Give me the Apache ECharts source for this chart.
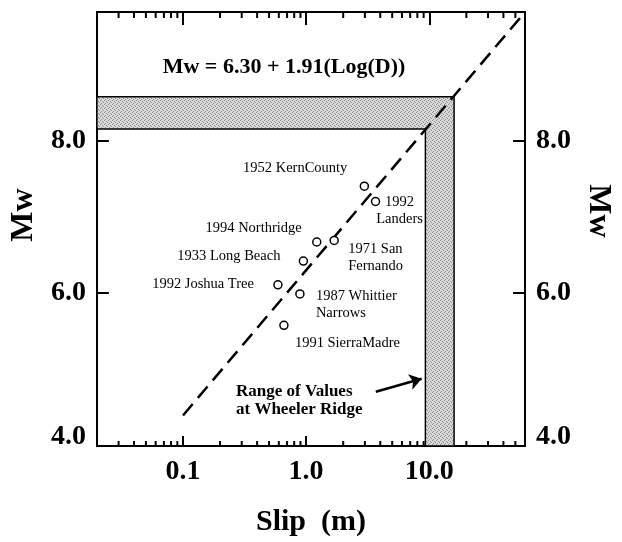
<!DOCTYPE html>
<html>
<head>
<meta charset="utf-8">
<script src="https://cdn.jsdelivr.net/npm/echarts@6/dist/echarts.min.js"></script>
<style>
  html, body { margin: 0; padding: 0; background: #fff; }
  #chart { width: 622px; height: 542px; }
</style>
</head>
<body>
<div id="chart"></div>
<script>
// axis ranges
const xMin = 0.02, xMax = 60;
const yMin = 4, yMax = 9.68;

// earthquakes (slip in m, moment magnitude)
const eventNames = ['1952 KernCounty', '1992\nLanders', '1994 Northridge', '1971 San\nFernando',
    '1933 Long Beach', '1992 Joshua Tree', '1987 Whittier\nNarrows', '1991 SierraMadre'];
const eventSlip = [2.97, 3.66, 1.22, 1.69, 0.95, 0.59, 0.89, 0.66];
const eventMw = [7.40, 7.20, 6.67, 6.69, 6.42, 6.11, 5.99, 5.58];

// regression line  Mw = 6.30 + 1.91 log(D)
const fitSlip = [0.1, 60];
const fitMw = [4.40, 9.68];

// range of values at Wheeler Ridge
const bandSlip = [9.3, 15.9];
const bandMw = [8.15, 8.57];

// arrow pointing at the band
const arrowSlip = [3.68, 8.67];
const arrowMw = [4.71, 4.88];

// tick labels
const xTickText = { '0.1': '0.1', '1': '1.0', '10': '10.0' };
const minorTicks = [0.03, 0.04, 0.05, 0.06, 0.07, 0.08, 0.09,
    0.2, 0.3, 0.4, 0.5, 0.6, 0.7, 0.8, 0.9,
    2, 3, 4, 5, 6, 7, 8, 9,
    20, 30, 40, 50];

// where each event label sits relative to its circle
const labelSpots = [
    { align: 'right', offset: [-17, -18] },
    { align: 'center', offset: [24, 9] },
    { align: 'right', offset: [-15, -14] },
    { align: 'left', offset: [14, 17] },
    { align: 'right', offset: [-23, -5] },
    { align: 'right', offset: [-24, -1] },
    { align: 'left', offset: [16, 11] },
    { align: 'left', offset: [11, 18] },
];

const serif = 'Liberation Serif';
const chart = echarts.init(document.getElementById('chart'));

// speckled grey fill, like the halftone of the original
function halftone() {
    const c = document.createElement('canvas');
    c.width = 4; c.height = 4;
    const ctx = c.getContext('2d');
    ctx.fillStyle = '#dadada';
    ctx.fillRect(0, 0, 4, 4);
    ctx.fillStyle = '#8e8e8e';
    [[0, 0], [2, 1], [1, 3], [3, 2]].forEach((p) => ctx.fillRect(p[0], p[1], 1, 1));
    return { image: c, repeat: 'repeat' };
}

function tickLabel(size) {
    return { color: '#000', fontFamily: serif, fontWeight: 'bold', fontSize: size };
}

function yLabel() {
    return Object.assign(tickLabel(28), {
        margin: 11, showMaxLabel: false,
        formatter: (v) => v === yMin ? '{low|' + v.toFixed(1) + '}' : v.toFixed(1),
        rich: { low: Object.assign(tickLabel(28), { padding: [0, 0, 18, 0] }) },
    });
}

const option = {
    animation: false,
    backgroundColor: '#fff',
    grid: { left: 88, right: 81, top: 12, bottom: 92 },
    xAxis: [
        {
            type: 'log', min: xMin, max: xMax, position: 'bottom',
            axisLine: { lineStyle: { color: '#000', width: 2 } },
            axisTick: { inside: true, length: 10, lineStyle: { color: '#000', width: 2 } },
            splitLine: { show: false },
            axisLabel: Object.assign(tickLabel(28), {
                margin: 12, showMinLabel: false, showMaxLabel: false,
                formatter: (v) => xTickText[String(v)] || '',
            }),
            name: 'Slip  (m)', nameLocation: 'middle', nameGap: 61,
            nameTextStyle: tickLabel(30),
        },
        {
            type: 'log', min: xMin, max: xMax, position: 'top',
            axisLine: { lineStyle: { color: '#000', width: 2 } },
            axisTick: { inside: true, length: 13, lineStyle: { color: '#000', width: 2 } },
            splitLine: { show: false },
            axisLabel: { show: false },
        },
    ],
    yAxis: [
        {
            type: 'value', min: yMin, max: yMax, interval: 2, position: 'left',
            axisLine: { show: true, lineStyle: { color: '#000', width: 2 } },
            axisTick: { show: true, inside: true, length: 12, lineStyle: { color: '#000', width: 2 } },
            splitLine: { show: false },
            axisLabel: yLabel(),
            name: 'Mw', nameLocation: 'middle', nameGap: 52, nameRotate: 90,
            nameTextStyle: Object.assign(tickLabel(32), { padding: [0, 0, 0, 28] }),
        },
        {
            type: 'value', min: yMin, max: yMax, interval: 2, position: 'right',
            axisLine: { show: true, lineStyle: { color: '#000', width: 2 } },
            axisTick: { show: true, inside: true, length: 12, lineStyle: { color: '#000', width: 2 } },
            splitLine: { show: false },
            axisLabel: yLabel(),
            name: 'Mw', nameLocation: 'middle', nameGap: 51, nameRotate: -90,
            nameTextStyle: Object.assign(tickLabel(32), { padding: [0, 36, 0, 0] }),
        },
    ],
    graphic: [
        {
            type: 'text', x: 284, y: 67, z: 10,
            style: {
                text: 'Mw = 6.30 + 1.91(Log(D))', fill: '#000',
                fontFamily: serif, fontWeight: 'bold', fontSize: 22,
                align: 'center', verticalAlign: 'middle',
            },
        },
        {
            type: 'text', x: 236, y: 401, z: 10,
            style: {
                text: 'Range of Values\nat Wheeler Ridge', fill: '#000',
                fontFamily: serif, fontWeight: 'bold', fontSize: 17, lineHeight: 18,
                align: 'left', verticalAlign: 'middle',
            },
        },
    ],
    series: [
        {
            // shaded L-shaped band
            type: 'custom', z: 1,
            data: [[bandSlip[0], bandMw[0]]],
            renderItem: (params, api) => {
                const pts = [
                    [xMin, bandMw[0]], [bandSlip[0], bandMw[0]], [bandSlip[0], yMin],
                    [bandSlip[1], yMin], [bandSlip[1], bandMw[1]], [xMin, bandMw[1]],
                ].map((p) => api.coord(p));
                return {
                    type: 'polygon',
                    shape: { points: pts },
                    style: { fill: halftone(), stroke: '#000', lineWidth: 1.5 },
                };
            },
        },
        {
            // minor ticks on the log axis (bottom and top)
            type: 'custom', z: 5,
            data: minorTicks.map((v) => [v, yMin]),
            renderItem: (params, api) => {
                const v = api.value(0);
                const b = api.coord([v, yMin]);
                const t = api.coord([v, yMax]);
                return {
                    type: 'group',
                    children: [
                        { type: 'line', shape: { x1: b[0], y1: b[1], x2: b[0], y2: b[1] - 5 },
                          style: { stroke: '#000', lineWidth: 2 } },
                        { type: 'line', shape: { x1: t[0], y1: t[1], x2: t[0], y2: t[1] + 6 },
                          style: { stroke: '#000', lineWidth: 2 } },
                    ],
                };
            },
        },
        {
            type: 'line', z: 3,
            data: fitSlip.map((s, i) => [s, fitMw[i]]),
            symbol: 'none',
            lineStyle: { color: '#000', width: 2.5, type: [15, 8] },
            markLine: {
                silent: true, symbol: ['none', 'arrow'], symbolSize: 12,
                label: { show: false },
                lineStyle: { color: '#000', width: 2.5, type: 'solid', curveness: -0.1 },
                data: [[{ coord: [arrowSlip[0], arrowMw[0]] }, { coord: [arrowSlip[1], arrowMw[1]] }]],
            },
        },
        {
            type: 'scatter', z: 4,
            symbol: 'circle', symbolSize: 8,
            itemStyle: { color: '#fff', borderColor: '#000', borderWidth: 1.5, opacity: 1 },
            data: eventNames.map((n, i) => ({
                name: n,
                value: [eventSlip[i], eventMw[i]],
                label: {
                    show: true, position: 'inside', formatter: n,
                    align: labelSpots[i].align, verticalAlign: 'middle',
                    offset: labelSpots[i].offset,
                    color: '#000', fontFamily: serif, fontSize: 14.5, lineHeight: 17,
                },
            })),
        },
    ],
};

chart.setOption(option);
</script>
</body>
</html>
